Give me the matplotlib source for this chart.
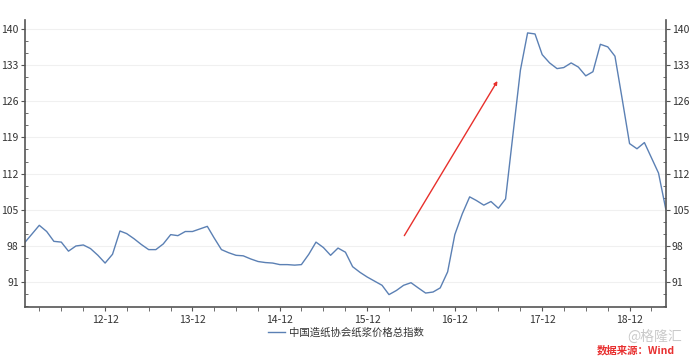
import matplotlib
matplotlib.use("Agg")
import matplotlib.pyplot as plt
import matplotlib.dates as mdates
import pandas as pd

plt.rcParams['font.family'] = ['Noto Sans CJK SC', 'DejaVu Sans']

series_name = "中国造纸协会纸浆价格总指数"
start_month = "2012-01"
end_month = "2019-05"
index_values = [
    98.7, 100.4, 102.0, 100.8, 98.9, 98.75, 97.0, 98.0, 98.2, 97.5, 96.2, 94.7,
    96.4, 100.9, 100.4, 99.4, 98.3, 97.3, 97.3, 98.4, 100.2, 100.0, 100.8, 100.8,
    101.3, 101.8, 99.6, 97.3, 96.7, 96.2, 96.1, 95.5, 95.0, 94.8, 94.7, 94.4,
    94.4, 94.3, 94.4, 96.4, 98.75, 97.7, 96.2, 97.6, 96.8, 94.0, 92.9, 92.0,
    91.2, 90.4, 88.6, 89.4, 90.4, 90.9, 89.9, 88.9, 89.1, 89.9, 93.0, 100.2,
    104.2, 107.5, 106.8, 105.9, 106.6, 105.3, 107.1, 119.6, 132.0, 139.2, 139.0, 135.0,
    133.4, 132.3, 132.5, 133.4, 132.6, 130.9, 131.7, 137.0, 136.5, 134.7, 126.2, 117.8,
    116.8, 118.0, 115.2, 112.1, 105.2,
]
y_ticks = [91, 98, 105, 112, 119, 126, 133, 140]
arrow_start = ("2016-05-04", 100.0)
arrow_end = ("2017-05-28", 129.9)

dates = pd.date_range(start_month, end_month, freq="MS")

fig = plt.figure(figsize=(6.92, 3.57), dpi=100)
ax = fig.add_axes([0.036, 0.14, 0.926, 0.804])

line_color = "#5b80b4"
ax.plot(dates, index_values, color=line_color, lw=1.0, label=series_name)

ax.set_xlim(dates[0], dates[-1])
ax.set_ylim(86.2, 141.7)
ax.set_yticks(y_ticks)
ax.yaxis.set_minor_locator(matplotlib.ticker.MultipleLocator(7 / 3))
ax.grid(axis="y", which="major", color="#f0f0f0", lw=0.8)
ax.set_axisbelow(True)

ax.xaxis.set_major_locator(mdates.MonthLocator(bymonth=[12]))
ax.xaxis.set_major_formatter(mdates.DateFormatter("%y-%m"))
ax.xaxis.set_minor_locator(mdates.MonthLocator(bymonth=[3, 6, 9, 12]))

spine_color = "#555555"
for s in ["left", "right", "bottom"]:
    ax.spines[s].set_color(spine_color)
    ax.spines[s].set_linewidth(1.2)
ax.spines["top"].set_visible(False)

ax.tick_params(axis="y", which="major", direction="out", length=3, color=spine_color,
               labelsize=7.5, labelcolor="#333333", left=True, right=True,
               labelleft=True, labelright=True, pad=1.5)
ax.tick_params(axis="y", which="minor", direction="in", length=2.5, color=spine_color,
               left=True, right=True)
ax.tick_params(axis="x", which="major", direction="out", length=3, color=spine_color,
               labelsize=7.5, labelcolor="#333333", pad=2.5)
ax.tick_params(axis="x", which="minor", direction="out", length=3, color=spine_color)

ax.annotate("", xy=(pd.Timestamp(arrow_end[0]), arrow_end[1]),
            xytext=(pd.Timestamp(arrow_start[0]), arrow_start[1]),
            arrowprops=dict(arrowstyle="-|>", color="#e8302c", lw=1.0,
                            mutation_scale=5, shrinkA=0, shrinkB=0))

leg = fig.legend(loc="center", bbox_to_anchor=(0.5, 0.068), frameon=False,
                 fontsize=7.5, handlelength=1.6, handletextpad=0.4)
for t in leg.get_texts():
    t.set_color("#333333")

fig.text(0.985, 0.058, "@格隆汇", ha="right", va="center", fontsize=10,
         color="#c4c4c4", alpha=0.9)
fig.text(0.975, 0.02, "数据来源：Wind", ha="right", va="center", fontsize=7.5,
         color="#e83030", style="italic", fontweight="bold")

fig.savefig("out.png", dpi=100)
